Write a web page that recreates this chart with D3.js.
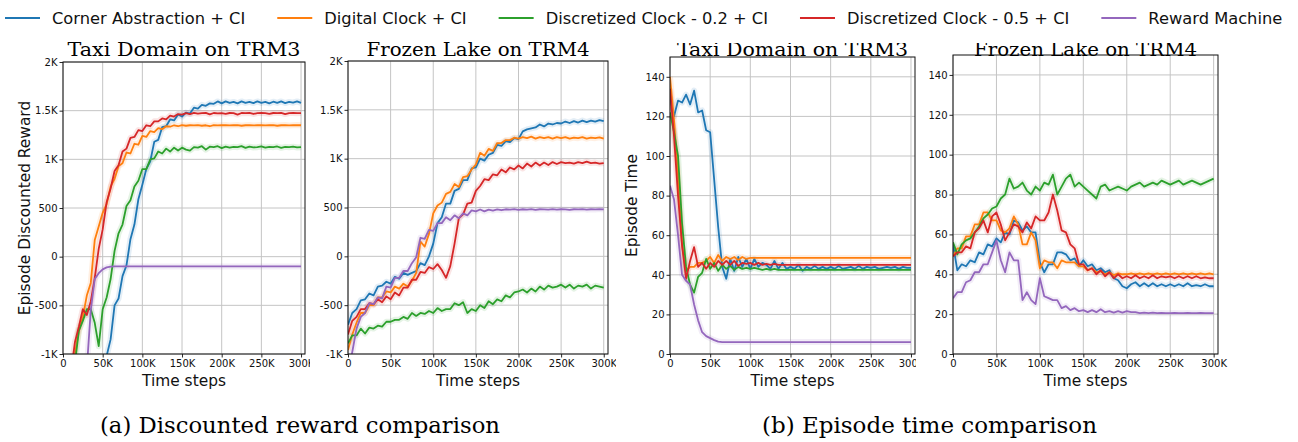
<!DOCTYPE html>
<html>
<head>
<meta charset="utf-8">
<script src="https://cdn.jsdelivr.net/npm/d3@7"></script>
<style>
  body { margin: 0; background: #fff; }
  svg { display: block; font-family: "DejaVu Sans", sans-serif; }
</style>
</head>
<body>
<div id="chart"></div>
<script>
// time steps, in thousands
var steps = d3.range(0, 301, 5);

var seriesNames = ["Corner Abstraction + CI", "Digital Clock + CI", "Discretized Clock - 0.2 + CI",
                   "Discretized Clock - 0.5 + CI", "Reward Machine"];
var colors = ["#1f77b4", "#ff7f0e", "#2ca02c", "#d62728", "#9467bd"];

var rewardTicks = [-1000, -500, 0, 500, 1000, 1500, 2000];
var timeTicks = [0, 20, 40, 60, 80, 100, 120, 140];
var xTicks = [0, 50, 100, 150, 200, 250, 300];

// (a) Taxi Domain on TRM3 - discounted reward
var taxiRewCorner = [-1400,-1400,-1400,-1400,-1400,-1400,-1400,-1400,-1400,-1350,
  -1200,-1020,-850,-500,-430,-200,-90,180,330,590,
  740,900,980,1180,1200,1330,1340,1410,1400,1460,
  1440,1480,1470,1530,1520,1560,1550,1575,1570,1595,
  1575,1595,1580,1590,1575,1595,1580,1590,1578,1595,
  1580,1590,1575,1592,1580,1595,1578,1590,1582,1595,1580];
var taxiRewDigital = [-1400,-1400,-1300,-1000,-760,-620,-400,-270,170,310,
  450,540,720,800,930,960,1070,1060,1160,1150,
  1240,1230,1290,1280,1320,1310,1340,1335,1350,1340,
  1352,1345,1350,1348,1352,1345,1350,1340,1352,1348,
  1350,1352,1348,1350,1352,1345,1350,1352,1348,1350,
  1352,1348,1350,1352,1345,1350,1352,1348,1350,1352,1350];
var taxiRewDisc02 = [-1400,-1400,-1400,-1100,-760,-660,-540,-540,-680,-920,
  -540,-420,-230,60,240,330,520,580,720,780,
  900,900,1000,1010,1080,1060,1110,1080,1120,1090,
  1120,1100,1090,1125,1120,1135,1100,1130,1125,1135,
  1115,1130,1120,1128,1125,1135,1118,1130,1122,1125,
  1132,1120,1128,1125,1132,1118,1128,1125,1130,1122,1125];
var taxiRewDisc05 = [-1400,-1400,-1200,-880,-720,-540,-600,-460,-220,80,
  280,560,700,880,940,1080,1110,1220,1230,1300,
  1290,1350,1340,1390,1390,1420,1410,1450,1440,1465,
  1460,1475,1465,1478,1470,1475,1478,1462,1476,1472,
  1475,1468,1476,1474,1460,1476,1474,1477,1466,1475,
  1476,1474,1468,1476,1475,1477,1465,1475,1476,1474,1475];
var taxiRewRM = [-1400,-1400,-1400,-1400,-1400,-1400,-1150,-550,-230,-170,
  -130,-110,-102,-100,-100,-100,-100,-100,-100,-100,
  -100,-100,-100,-100,-100,-100,-100,-100,-100,-100,
  -100,-100,-100,-100,-100,-100,-100,-100,-100,-100,
  -100,-100,-100,-100,-100,-100,-100,-100,-100,-100,
  -100,-100,-100,-100,-100,-100,-100,-100,-100,-100,-100];

// (a) Frozen Lake on TRM4 - discounted reward
var lakeRewCorner = [-700,-580,-540,-450,-440,-380,-400,-310,-300,-260,
  -280,-210,-230,-170,-190,-170,-150,-70,-90,0,
  130,340,400,540,540,670,690,780,780,900,
  910,1000,980,1040,1060,1140,1130,1180,1170,1210,
  1200,1280,1300,1310,1320,1350,1330,1360,1350,1365,
  1360,1380,1365,1385,1370,1390,1375,1390,1380,1395,1385];
var lakeRewDigital = [-960,-800,-680,-580,-580,-500,-500,-420,-420,-360,
  -370,-310,-330,-280,-310,-250,-170,150,100,230,
  440,520,550,640,660,740,710,810,820,890,
  940,1060,1030,1100,1080,1160,1160,1190,1190,1215,
  1205,1220,1210,1225,1205,1220,1210,1220,1205,1220,
  1210,1220,1205,1215,1210,1220,1205,1215,1210,1218,1205];
var lakeRewDisc02 = [-890,-810,-810,-740,-790,-730,-740,-710,-720,-670,
  -670,-650,-650,-620,-640,-580,-610,-580,-590,-560,
  -580,-530,-560,-540,-540,-480,-500,-470,-580,-540,
  -560,-500,-530,-460,-490,-440,-460,-400,-420,-370,
  -360,-340,-370,-330,-360,-310,-340,-300,-320,-310,
  -290,-320,-290,-330,-300,-310,-290,-330,-300,-310,-320];
var lakeRewDisc05 = [-800,-660,-620,-540,-540,-480,-490,-440,-470,-410,
  -440,-370,-400,-320,-320,-240,-240,-160,-170,-110,
  -130,-80,-140,-220,-100,130,390,430,540,550,
  670,720,790,780,840,830,890,860,910,890,
  930,900,950,920,960,930,960,935,965,945,
  965,955,960,950,965,955,970,955,960,950,955];
var lakeRewRM = [-1200,-980,-740,-620,-580,-480,-490,-420,-430,-310,
  -320,-220,-220,-150,-150,-70,-10,190,180,270,
  260,340,340,400,370,420,390,440,420,470,
  460,480,460,478,468,480,472,482,478,484,
  476,482,478,484,476,482,480,478,484,478,
  482,480,476,482,480,484,478,482,480,484,480];

// (b) Taxi Domain on TRM3 - episode time
var taxiTimeCorner = [130,120,128,127,131,126,133,122,123,113,
  112,88,64,44,38,48,42,49,44,48,
  43,48,44,46,45,43,47,43,46,43,
  44,43,45,42,44,43,44.5,43,44,43,
  44,43,44.5,43,43.5,44,43,44.5,43,44,
  43.5,44,43,43.5,44,43.5,44,43,44,43.5,43.5];
var taxiTimeDigital = [140,118,90,55,42,44,44,46,46,47,
  49,46,50,47,49,48,49,47.5,49,48,
  48.5,48.5,48.5,48.5,48.5,48.5,48.5,48.5,48.5,48.5,
  48.5,48.5,48.5,48.5,48.5,48.5,48.5,48.5,48.5,48.5,
  48.5,48.5,48.5,48.5,48.5,48.5,48.5,48.5,48.5,48.5,
  48.5,48.5,48.5,48.5,48.5,48.5,48.5,48.5,48.5,48.5,48.5];
var taxiTimeDisc02 = [122,112,100,66,44,35,31,39,41,48,
  43,46,42,45,43,44.5,42.5,44,43,43.5,
  43,43.5,43,42.5,43,42.5,43,42.5,42.5,42.5,
  42.5,42.5,42.5,42.5,42.5,42.5,42.5,42.5,42.5,42.5,
  42.5,42.5,42.5,42.5,42.5,42.5,42.5,42.5,42.5,42.5,
  42.5,42.5,42.5,42.5,42.5,42.5,42.5,42.5,42.5,42.5,42.5];
var taxiTimeDisc05 = [134,110,80,55,38,47,54,44,46,43,
  46,44,47,45,47,45,47,44.5,46,45.5,
  46,45,46,45,45.5,45,45.5,45,45,45,
  45,45,45,45,45,45,45,45,45,45,
  45,45,45,45,45,45,45,45,45,45,
  45,45,45,45,45,45,45,45,45,45,45];
var taxiTimeRM = [85,78,60,40,37,35,25,17,11,9,
  8,7,6.3,6,6,6,6,6,6,6,
  6,6,6,6,6,6,6,6,6,6,
  6,6,6,6,6,6,6,6,6,6,
  6,6,6,6,6,6,6,6,6,6,
  6,6,6,6,6,6,6,6,6,6,6];

// (b) Frozen Lake on TRM4 - episode time
var lakeTimeCorner = [55,42,45,44,47,46,51,50,55,54,
  58,56,61,60,67,66,62,64,61,61,
  46,41,45,45,51,51,50,47,48,44,
  47,44,45,42,43,41,42,38,37,34,
  33,35,36,34,35.5,34,35.5,34,35,34,
  35,34,35,34,35.5,34,34.5,34,35,34,34];
var lakeTimeDigital = [49,53,53,59,59,65,65,71,71,67,
  67,62,61,63,69,65,55,55,61,57,
  43,47,46,46,43,47,46,46,46,44,
  44,42,43,41,41.5,40,41,39.5,40.5,40,
  40,40.5,40,40.5,40,40.5,40,40.5,40,40.5,
  40,40.5,40,40.5,40,40.5,40,40.5,40,40.5,40];
var lakeTimeDisc02 = [56,50,55,57,58,61,64,68,70,73,
  74,78,80,88,83,84,86,82,80,84,
  82,86,85,90,80,84,88,90,84,86,
  84,82,80,78,84,85,82,83,84,83,
  82,84,85,86,84,85,86,85,87,86,
  85,86,87,85,86,87,86,85,86,87,88];
var lakeTimeDisc05 = [49,51,51,54,53,61,63,67,61,69,
  71,65,57,61,65,64,61,66,63,69,
  67,67,71,80,72,62,61,55,53,45,
  45,42,43,40,42,39,41,38,40,38,
  39,38,39.5,38,39,38,39.5,38,39,38.5,
  39,38,39,38,39,38,39,38,38.5,38,38];
var lakeTimeRM = [28,31,31,36,37,41,41,45,45,51,
  57,47,41,51,47,47,27,31,27,25,
  38,29,28,27,27,23,24,22,23,21.5,
  22,21,22,21,22.5,21,21.5,20.8,21.5,20.8,
  21.5,21,21,20.5,20.8,20.5,20.8,20.5,20.6,20.5,
  20.5,20.6,20.5,20.5,20.6,20.5,20.5,20.6,20.5,20.5,20.5];

var width = 1298, height = 442;

var panels = [
  { title: "Taxi Domain on TRM3", yLabel: "Episode Discounted Reward", series: [taxiRewCorner, taxiRewDigital, taxiRewDisc02, taxiRewDisc05, taxiRewRM],
    yDomain: [-1000, 2000], yTicks: rewardTicks, x0: 63, x1: 305, y0: 62, y1: 354, clip: [0, 310], titleW: 233 },
  { title: "Frozen Lake on TRM4", yLabel: null, series: [lakeRewCorner, lakeRewDigital, lakeRewDisc02, lakeRewDisc05, lakeRewRM],
    yDomain: [-1000, 2000], yTicks: rewardTicks, x0: 348, x1: 608, y0: 61, y1: 354, clip: [310, 616], titleW: 223 },
  { title: "Taxi Domain on TRM3", yLabel: "Episode Time", series: [taxiTimeCorner, taxiTimeDigital, taxiTimeDisc02, taxiTimeDisc05, taxiTimeRM],
    yDomain: [0, 150], yTicks: timeTicks, x0: 670, x1: 915, y0: 57, y1: 354, clip: [616, 916], titleW: 231, cutTop: 43 },
  { title: "Frozen Lake on TRM4", yLabel: null, series: [lakeTimeCorner, lakeTimeDigital, lakeTimeDisc02, lakeTimeDisc05, lakeTimeRM],
    yDomain: [0, 150], yTicks: timeTicks, x0: 953, x1: 1218, y0: 55, y1: 354, clip: [916, 1298], titleW: 223, cutTop: 43 }
];

var svg = d3.select("#chart").append("svg")
    .attr("width", width)
    .attr("height", height);
var defs = svg.append("defs");

function fmtReward(v) {
  if (Math.abs(v) >= 1000) return (v / 1000) + "K";
  return "" + v;
}

panels.forEach(function(p, i) {
  defs.append("clipPath").attr("id", "region" + i)
    .append("rect").attr("x", p.clip[0]).attr("y", p.cutTop || 0)
    .attr("width", p.clip[1] - p.clip[0]).attr("height", height);
  defs.append("clipPath").attr("id", "plot" + i)
    .append("rect").attr("x", p.x0).attr("y", p.y0)
    .attr("width", p.x1 - p.x0).attr("height", p.y1 - p.y0);

  var g = svg.append("g").attr("clip-path", "url(#region" + i + ")");

  var x = d3.scaleLinear().domain([0, 305]).range([p.x0, p.x1]);
  var y = d3.scaleLinear().domain(p.yDomain).range([p.y1, p.y0]);

  // grid
  g.append("g").selectAll("line").data(xTicks).join("line")
    .attr("x1", d => x(d)).attr("x2", d => x(d))
    .attr("y1", p.y0).attr("y2", p.y1)
    .attr("stroke", "#c4c4c4").attr("stroke-width", 1);
  g.append("g").selectAll("line").data(p.yTicks).join("line")
    .attr("x1", p.x0).attr("x2", p.x1)
    .attr("y1", d => y(d)).attr("y2", d => y(d))
    .attr("stroke", "#c4c4c4").attr("stroke-width", 1);

  // lines, with a soft halo standing in for the confidence band
  var line = d3.line().x((d, j) => x(steps[j])).y(d => y(d));
  var lines = g.append("g").attr("clip-path", "url(#plot" + i + ")");
  p.series.forEach(function(s, k) {
    lines.append("path").attr("d", line(s))
      .attr("fill", "none").attr("stroke", colors[k])
      .attr("stroke-width", 6).attr("stroke-opacity", 0.12)
      .attr("stroke-linejoin", "round");
  });
  p.series.forEach(function(s, k) {
    lines.append("path").attr("d", line(s))
      .attr("fill", "none").attr("stroke", colors[k])
      .attr("stroke-width", 1.8).attr("stroke-linejoin", "round");
  });

  // axes
  var xAxis = d3.axisBottom(x).tickValues(xTicks).tickSize(3.5).tickPadding(2)
    .tickFormat(d => d === 0 ? "0" : d + "K");
  var yAxis = d3.axisLeft(y).tickValues(p.yTicks).tickSize(3.5).tickPadding(2)
    .tickFormat(p.yDomain[0] < 0 ? fmtReward : d3.format("d"));

  var gx = g.append("g").attr("transform", "translate(0," + p.y1 + ")").call(xAxis);
  var gy = g.append("g").attr("transform", "translate(" + p.x0 + ",0)").call(yAxis);
  [gx, gy].forEach(function(a) {
    a.select(".domain").remove();
    a.selectAll("text").attr("font-size", 10).attr("font-family", "DejaVu Sans").attr("fill", "#111");
    a.selectAll("line").attr("stroke", "#111").attr("stroke-width", 0.9);
  });

  g.append("rect").attr("x", p.x0).attr("y", p.y0)
    .attr("width", p.x1 - p.x0).attr("height", p.y1 - p.y0)
    .attr("fill", "none").attr("stroke", "#111").attr("stroke-width", 1);

  g.append("text").attr("x", (p.x0 + p.x1) / 2).attr("y", 56)
    .attr("text-anchor", "middle").attr("font-family", "DejaVu Serif").attr("font-size", 19)
    .attr("textLength", p.titleW).attr("lengthAdjust", "spacingAndGlyphs")
    .text(p.title);

  g.append("text").attr("x", (p.x0 + p.x1) / 2).attr("y", 386)
    .attr("text-anchor", "middle").attr("font-size", 15.4).attr("fill", "#111")
    .text("Time steps");

  if (p.yLabel) {
    g.append("text")
      .attr("transform", "translate(" + (p.x0 - 33) + "," + ((p.y0 + p.y1) / 2) + ") rotate(-90)")
      .attr("text-anchor", "middle").attr("font-size", 15.4).attr("fill", "#111")
      .text(p.yLabel);
  }
});

// legend
var legend = svg.append("g").attr("transform", "translate(5,18)");
var lx = 0;
seriesNames.forEach(function(name, k) {
  legend.append("line").attr("x1", lx).attr("x2", lx + 35)
    .attr("stroke", colors[k]).attr("stroke-width", 2.2);
  var t = legend.append("text").attr("x", lx + 47).attr("y", 6)
    .attr("font-size", 16.3).attr("fill", "#111").text(name);
  lx += 47 + t.node().getComputedTextLength() + 32;
});

// captions
svg.append("text").attr("x", 300).attr("y", 433).attr("text-anchor", "middle")
  .attr("font-family", "DejaVu Serif").attr("font-size", 22)
  .attr("textLength", 400).attr("lengthAdjust", "spacingAndGlyphs")
  .text("(a) Discounted reward comparison");
svg.append("text").attr("x", 929.5).attr("y", 433).attr("text-anchor", "middle")
  .attr("font-family", "DejaVu Serif").attr("font-size", 22)
  .attr("textLength", 335).attr("lengthAdjust", "spacingAndGlyphs")
  .text("(b) Episode time comparison");
</script>
</body>
</html>
